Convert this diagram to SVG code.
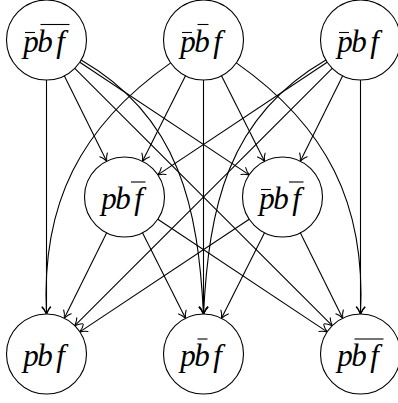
<svg xmlns="http://www.w3.org/2000/svg" width="398" height="403" viewBox="0 0 398 403">
<style>
.n{fill:#fff;stroke:#000;stroke-width:1.1}
.e{fill:none;stroke:#000;stroke-width:1.1;marker-end:url(#ah)}
.t{font-family:"Liberation Serif","Times New Roman",serif;font-style:italic;font-size:31px;fill:#000;text-anchor:middle}
.b{stroke:#000;stroke-width:1.1}
</style>
<defs>
<marker id="ah" markerUnits="userSpaceOnUse" markerWidth="12" markerHeight="12" viewBox="-9 -6 10 12" refX="0" refY="0" orient="auto">
<path d="M-7,-4.2 C-5,-2 -1.5,-0.6 0,0 C-1.5,0.6 -5,2 -7,4.2" fill="none" stroke="#000" stroke-width="1.1" stroke-linecap="round"/>
</marker>
</defs>
<g id="edges">
<path class="e" d="M64.3,75.8 L106.7,161.2"/>
<path class="e" d="M185.5,75.7 L142.5,161.3"/>
<path class="e" d="M327.2,62.2 L157.8,174.9"/>
<path class="e" d="M79.8,62.2 L249.2,174.9"/>
<path class="e" d="M221.5,75.7 L264.5,161.3"/>
<path class="e" d="M342.7,75.8 L300.3,161.2"/>
<path class="e" d="M46.5,80 L46.5,314"/>
<path class="e" d="M203.5,80 L203.5,314"/>
<path class="e" d="M360.5,80 L360.5,314"/>
<path class="e" d="M74.8,68.3 L332.2,325.7"/>
<path class="e" d="M332.2,68.3 L74.8,325.7"/>
<path class="e" d="M81.1,60 C180.7,117.5 198,209 203.5,314"/>
<path class="e" d="M325.9,60 C226.3,117.5 209,209 203.5,314"/>
<path class="e" d="M170.7,62.9 C80.6,126 41,204 46.5,314"/>
<path class="e" d="M236.3,62.9 C326.4,126 366,204 360.5,314"/>
<path class="e" d="M106.7,232.8 L64.3,318.2"/>
<path class="e" d="M142.5,232.7 L185.5,318.3"/>
<path class="e" d="M157.8,219.2 L327.2,331.9"/>
<path class="e" d="M249.2,219.2 L79.8,331.9"/>
<path class="e" d="M264.5,232.7 L221.5,318.3"/>
<path class="e" d="M300.3,232.8 L342.7,318.2"/>
</g>
<g id="T1">
<circle class="n" cx="46.5" cy="40" r="40"/>
<text class="t" y="52"><tspan x="31">p</tspan><tspan x="45">b</tspan><tspan x="60.5">f</tspan></text>
<line class="b" x1="25" y1="32.5" x2="35" y2="32.5"/>
<line class="b" x1="40.5" y1="24.5" x2="69.5" y2="24.5"/>
</g>
<g id="T2">
<circle class="n" cx="203.5" cy="40" r="40"/>
<text class="t" y="52"><tspan x="188">p</tspan><tspan x="202">b</tspan><tspan x="217.5">f</tspan></text>
<line class="b" x1="182" y1="32.5" x2="192" y2="32.5"/>
<line class="b" x1="197.5" y1="24.5" x2="208.5" y2="24.5"/>
</g>
<g id="T3">
<circle class="n" cx="360.5" cy="40" r="40"/>
<text class="t" y="52"><tspan x="345">p</tspan><tspan x="359">b</tspan><tspan x="374.5">f</tspan></text>
<line class="b" x1="339" y1="32.5" x2="349" y2="32.5"/>
</g>
<g id="M1">
<circle class="n" cx="124.5" cy="197" r="40"/>
<text class="t" y="209"><tspan x="109">p</tspan><tspan x="123">b</tspan><tspan x="138.5">f</tspan></text>
<line class="b" x1="131" y1="182" x2="145.5" y2="182"/>
</g>
<g id="M2">
<circle class="n" cx="282.5" cy="197" r="40"/>
<text class="t" y="209"><tspan x="267">p</tspan><tspan x="281">b</tspan><tspan x="296.5">f</tspan></text>
<line class="b" x1="261" y1="189.5" x2="271" y2="189.5"/>
<line class="b" x1="289" y1="182" x2="303.5" y2="182"/>
</g>
<g id="B1">
<circle class="n" cx="46.5" cy="354" r="40"/>
<text class="t" y="366"><tspan x="31">p</tspan><tspan x="45">b</tspan><tspan x="60.5">f</tspan></text>
</g>
<g id="B2">
<circle class="n" cx="203.5" cy="354" r="40"/>
<text class="t" y="366"><tspan x="188">p</tspan><tspan x="202">b</tspan><tspan x="217.5">f</tspan></text>
<line class="b" x1="197.5" y1="339" x2="207.5" y2="339"/>
</g>
<g id="B3">
<circle class="n" cx="360.5" cy="354" r="40"/>
<text class="t" y="366"><tspan x="345">p</tspan><tspan x="359">b</tspan><tspan x="374.5">f</tspan></text>
<line class="b" x1="354.5" y1="339" x2="383.5" y2="339"/>
</g>
</svg>
